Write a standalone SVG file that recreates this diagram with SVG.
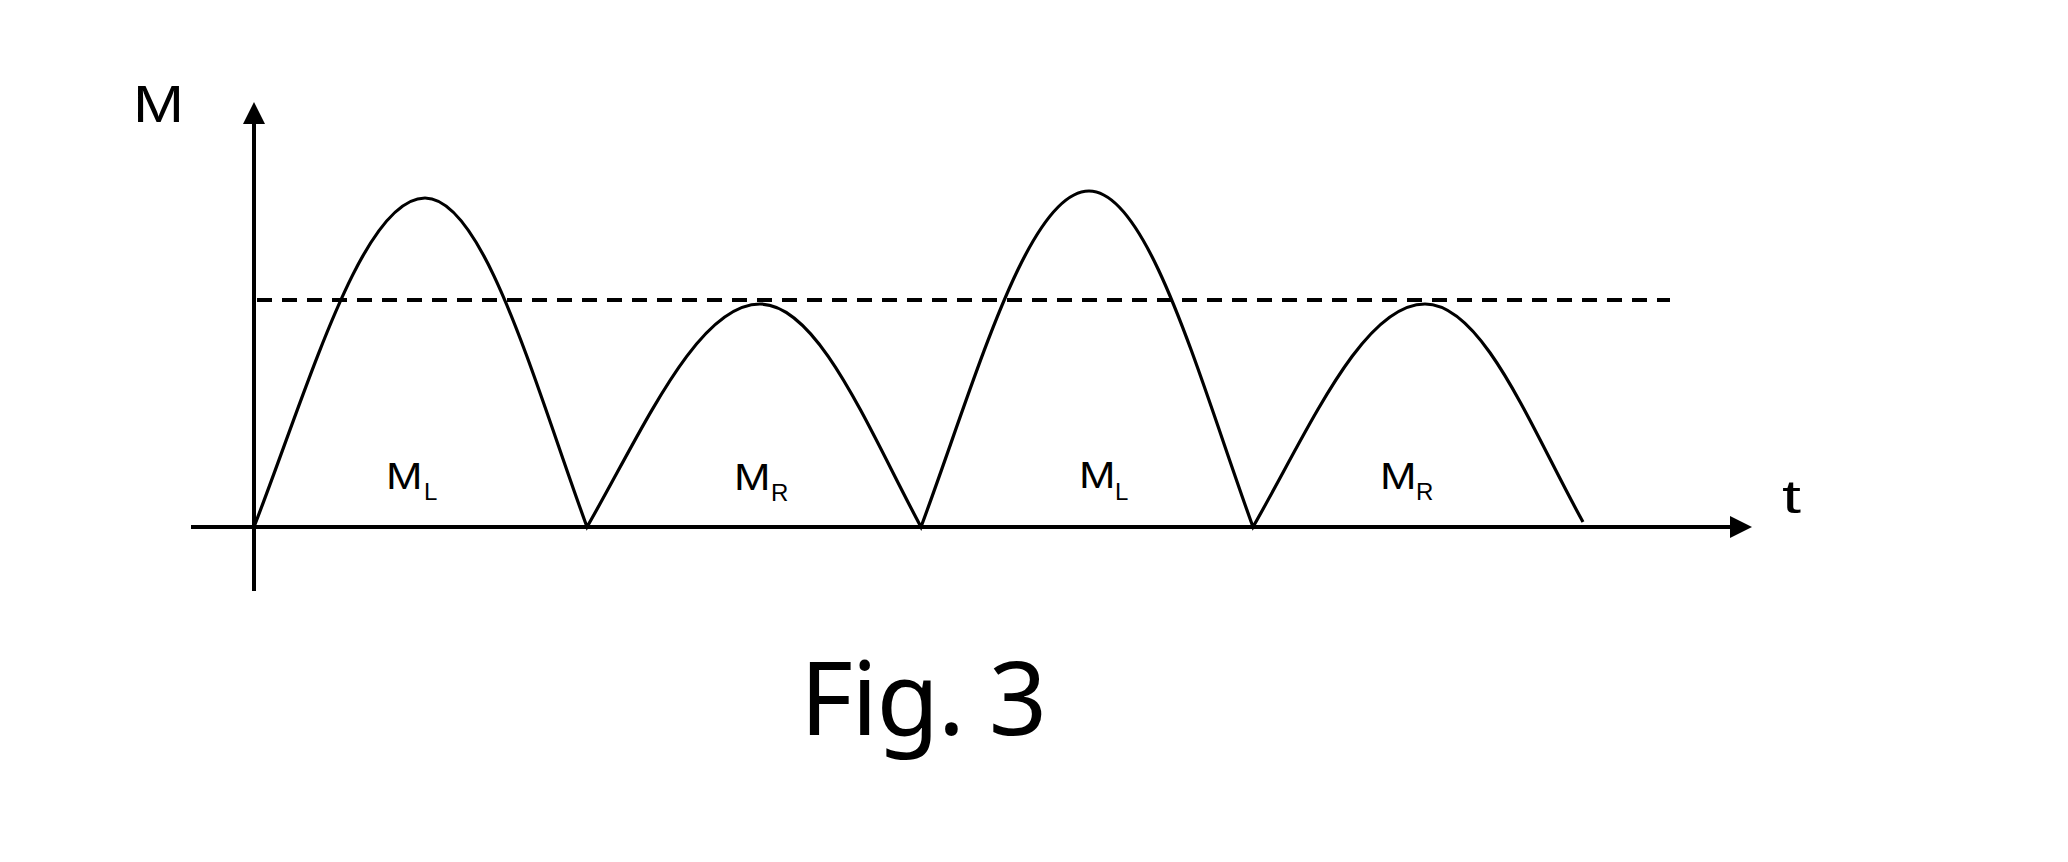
<svg xmlns="http://www.w3.org/2000/svg" width="2068" height="862" viewBox="0 0 2068 862">
<style>
.axis{stroke:#000;stroke-width:4;fill:none}
.curve{stroke:#000;stroke-width:3.2;fill:none;stroke-linejoin:miter}
.dash{stroke:#000;stroke-width:4;fill:none;stroke-dasharray:15 10}
.lbl{font-family:"Liberation Sans",Arial,sans-serif;fill:#000}
.cap{font-family:"Noto Sans","Open Sans",sans-serif;fill:#000}
</style>
<defs>
<marker id="arrow" markerUnits="userSpaceOnUse" markerWidth="22" markerHeight="22" refX="0" refY="11" orient="auto">
<path d="M0,0 L22,11 L0,22 Z" fill="#000"/>
</marker>
</defs>
<rect width="2068" height="862" fill="#fff"/>
<g id="connectors">
<line id="y-axis" class="axis" x1="254" y1="591" x2="254" y2="124" marker-end="url(#arrow)"/>
<line id="x-axis" class="axis" x1="191" y1="527" x2="1730" y2="527" marker-end="url(#arrow)"/>
<line id="threshold" class="dash" x1="257" y1="300" x2="1670" y2="300"/>
<path id="torque-curve" class="curve" d="M254,527 C309.8,382.2 363.1,198 425,198 C483.6,198 534.2,382.2 587,527 C643.4,428.9 697.4,304 760,304 C818.3,304 868.5,428.9 921,527 C975.8,379.2 1028.2,191 1089,191 C1148.4,191 1199.5,379.2 1253,527 C1309.1,428.9 1362.8,304 1425,304 C1482.9,304 1531,428 1583,522"/>
</g>
<g id="label-M"><text class="lbl" x="133" y="122" font-size="51" textLength="51" lengthAdjust="spacingAndGlyphs">M</text></g>
<g id="label-t"><text class="lbl" x="1782" y="513" font-size="47" textLength="19" lengthAdjust="spacingAndGlyphs">t</text></g>
<g id="label-ML1"><text class="lbl" x="386" y="489" font-size="37.5" textLength="36.5" lengthAdjust="spacingAndGlyphs">M</text><text class="lbl" x="424" y="500" font-size="24">L</text></g>
<g id="label-MR1"><text class="lbl" x="734" y="490" font-size="37.5" textLength="36.5" lengthAdjust="spacingAndGlyphs">M</text><text class="lbl" x="771" y="501" font-size="24">R</text></g>
<g id="label-ML2"><text class="lbl" x="1079" y="488" font-size="37.5" textLength="36.5" lengthAdjust="spacingAndGlyphs">M</text><text class="lbl" x="1115" y="500" font-size="24">L</text></g>
<g id="label-MR2"><text class="lbl" x="1380" y="489" font-size="37.5" textLength="36.5" lengthAdjust="spacingAndGlyphs">M</text><text class="lbl" x="1416" y="500" font-size="24">R</text></g>
<g id="caption"><text class="cap" x="800" y="735" font-size="102" textLength="247" lengthAdjust="spacing">Fig. 3</text></g>
</svg>
